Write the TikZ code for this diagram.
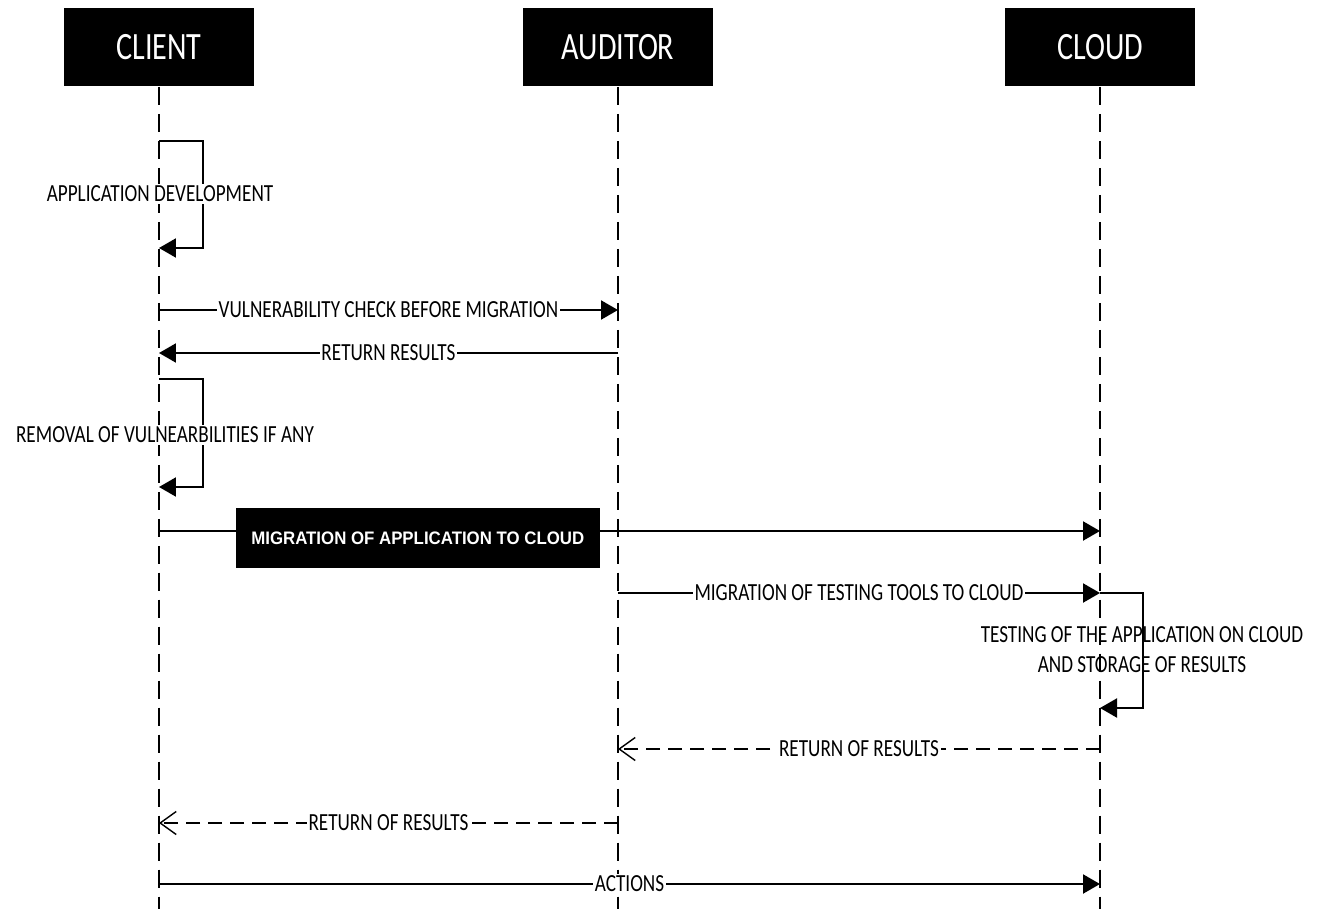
\documentclass[tikz,border=0pt]{standalone}
\usepackage{fontspec}
\usepackage{tikz}
\newfontfamily\labelfont[FakeStretch=0.78]{Carlito}
\newfontfamily\titlefont[FakeStretch=0.78]{Carlito}
\newfontfamily\boxfont[FakeStretch=0.93]{Liberation Sans}
\tikzstyle{actor} = [rectangle, fill=black, text=white, minimum width=3.8cm, minimum height=1.58cm, font=\titlefont\fontsize{22}{24}\selectfont]
\tikzstyle{lifeline} = [line width=1.4pt, dash pattern=on 0.36cm off 0.18cm]
\tikzstyle{arrow} = [line width=1.2pt, -{Triangle[length=0.34cm, width=0.38cm]}]
\tikzstyle{reply} = [line width=1.2pt, dash pattern=on 0.28cm off 0.16cm, -{Straight Barb[length=0.32cm, width=0.46cm, line width=0.8pt]}]
\tikzstyle{msglabel} = [fill=white, inner sep=1pt, font=\labelfont\fontsize{14}{17}\selectfont]
\tikzstyle{migbox} = [rectangle, fill=black, text=white, minimum width=7.28cm, minimum height=1.2cm, font=\boxfont\bfseries\fontsize{10.3}{12}\selectfont]
\usetikzlibrary{arrows.meta}

\begin{document}
\begin{tikzpicture}[x=0.02cm, y=-0.02cm]
        \useasboundingbox (0,0) rectangle (1335,909);
        % actors
        \node (client) [actor] at (159,47) {CLIENT};
        \node (auditor) [actor] at (618,47) {AUDITOR};
        \node (cloud) [actor] at (1100,47) {CLOUD};
        \coordinate (clientend) at (159,909);
        \coordinate (auditorend) at (618,909);
        \coordinate (cloudend) at (1100,909);
        \draw [lifeline] (client.south) -- (clientend);
        \draw [lifeline] (auditor.south) -- (auditorend);
        \draw [lifeline] (cloud.south) -- (cloudend);
        % points on the lifelines
        \coordinate (c-dev) at (159,141);
        \coordinate (c-devend) at (159,248);
        \coordinate (c-check) at (159,310);
        \coordinate (a-check) at (618,310);
        \coordinate (a-res) at (618,353);
        \coordinate (c-res) at (159,353);
        \coordinate (c-fix) at (159,379);
        \coordinate (c-fixend) at (159,487);
        \coordinate (c-mig) at (159,531);
        \coordinate (k-mig) at (1100,531);
        \coordinate (a-tools) at (618,593);
        \coordinate (k-tools) at (1100,593);
        \coordinate (k-testend) at (1100,708);
        \coordinate (k-ret) at (1100,749);
        \coordinate (a-ret) at (618,749);
        \coordinate (a-ret2) at (618,823);
        \coordinate (c-ret2) at (159,823);
        \coordinate (c-act) at (159,884);
        \coordinate (k-act) at (1100,884);
        % messages
        \draw [arrow] (c-dev) -- ++(44,0) |- (c-devend);
        \node (devlabel) [msglabel] at (160,194) {APPLICATION DEVELOPMENT};
        \draw [arrow] (c-check) -- node[msglabel] {VULNERABILITY CHECK BEFORE MIGRATION} (a-check);
        \draw [arrow] (a-res) -- node[msglabel] {RETURN RESULTS} (c-res);
        \draw [arrow] (c-fix) -- ++(44,0) |- (c-fixend);
        \node (fixlabel) [msglabel] at (165,435) {REMOVAL OF VULNEARBILITIES IF ANY};
        \draw [arrow] (c-mig) -- node[migbox, pos=0.275, yshift=-0.14cm] {MIGRATION OF APPLICATION TO CLOUD} (k-mig);
        \draw [arrow] (a-tools) -- node[msglabel] {MIGRATION OF TESTING TOOLS TO CLOUD} (k-tools);
        \draw [arrow] (k-tools) -- ++(43,0) |- (k-testend);
        \node (testlabel) [msglabel, fill=none, align=center] at (1142,650) {TESTING OF THE APPLICATION ON CLOUD\\AND STORAGE OF RESULTS};
        \draw [reply] (k-ret) -- node[msglabel] {RETURN OF RESULTS} (a-ret);
        \draw [reply] (a-ret2) -- node[msglabel] {RETURN OF RESULTS} (c-ret2);
        \draw [arrow] (c-act) -- node[msglabel] {ACTIONS} (k-act);
    \end{tikzpicture}
\end{document}
